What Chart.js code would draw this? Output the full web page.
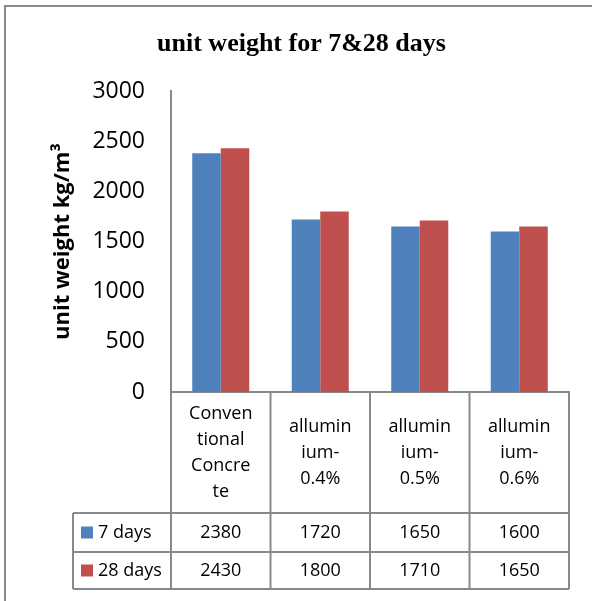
<!DOCTYPE html>
<html>
<head>
<meta charset="utf-8">
<script src="https://cdn.jsdelivr.net/npm/chart.js@4.4.1/dist/chart.umd.min.js"></script>
<style>
  html, body { margin: 0; padding: 0; background: #fff; }
</style>
</head>
<body>
<canvas id="chart" width="592" height="601"></canvas>
<script>
const categories = [
  ['Conven', 'tional', 'Concre', 'te'],
  ['allumin', 'ium-', '0.4%'],
  ['allumin', 'ium-', '0.5%'],
  ['allumin', 'ium-', '0.6%']
];
const days7 = [2380, 1720, 1650, 1600];
const days28 = [2430, 1800, 1710, 1650];
const seriesNames = ['7 days', '28 days'];
const seriesColors = ['#4F81BD', '#C0504D'];

const lineColor = '#898989';
const sansFont = "'Open Sans', sans-serif";

// outer chart frame (only top and left edges show in the picture)
const frame = {
  id: 'frame',
  beforeDraw(chart) {
    const ctx = chart.ctx;
    ctx.save();
    ctx.strokeStyle = lineColor;
    ctx.lineWidth = 2;
    ctx.beginPath();
    ctx.moveTo(5, chart.height);
    ctx.lineTo(5, 6);
    ctx.lineTo(chart.width, 6);
    ctx.stroke();
    ctx.restore();
  }
};

// excel style data table under the plot
const dataTable = {
  id: 'dataTable',
  afterDraw(chart) {
    const ctx = chart.ctx;
    const x = chart.scales.x;
    const top = chart.chartArea.bottom;
    const rows = [top, top + 121, top + 160, top + 197];
    const legendLeft = 73;

    const edges = [x.left];
    for (let i = 0; i < categories.length - 1; i++) {
      edges.push((x.getPixelForValue(i) + x.getPixelForValue(i + 1)) / 2);
    }
    edges.push(x.right);

    ctx.save();
    ctx.strokeStyle = lineColor;
    ctx.lineWidth = 2;
    ctx.beginPath();
    edges.forEach(e => { ctx.moveTo(e, rows[0]); ctx.lineTo(e, rows[3]); });
    ctx.moveTo(legendLeft, rows[1]); ctx.lineTo(legendLeft, rows[3]);
    for (let r = 1; r < rows.length; r++) {
      ctx.moveTo(legendLeft, rows[r]); ctx.lineTo(x.right, rows[r]);
    }
    ctx.stroke();

    ctx.fillStyle = '#000';
    ctx.font = '18px ' + sansFont;
    ctx.textAlign = 'center';
    ctx.textBaseline = 'middle';

    // category labels
    const catMid = (rows[0] + rows[1]) / 2;
    categories.forEach((lines, i) => {
      const cx = x.getPixelForValue(i);
      const y0 = catMid - (lines.length - 1) * 13;
      lines.forEach((t, j) => ctx.fillText(t, cx, y0 + j * 26));
    });

    // value rows with legend keys
    [days7, days28].forEach((vals, s) => {
      const my = (rows[s + 1] + rows[s + 2]) / 2;
      vals.forEach((v, i) => {
        ctx.textAlign = 'center';
        ctx.fillText(String(v), x.getPixelForValue(i), my);
      });
      ctx.fillStyle = seriesColors[s];
      ctx.fillRect(81, my - 6, 12, 12);
      ctx.fillStyle = '#000';
      ctx.textAlign = 'left';
      ctx.fillText(seriesNames[s], 98, my);
    });
    ctx.restore();
  }
};

new Chart(document.getElementById('chart'), {
  type: 'bar',
  data: {
    labels: categories,
    datasets: [
      { label: seriesNames[0], data: days7, backgroundColor: seriesColors[0] },
      { label: seriesNames[1], data: days28, backgroundColor: seriesColors[1] }
    ]
  },
  options: {
    responsive: false,
    animation: false,
    categoryPercentage: 0.573,
    barPercentage: 1,
    layout: { padding: { top: 0, left: 34, right: 23, bottom: 209 } },
    plugins: {
      legend: { display: false },
      tooltip: { enabled: false },
      title: {
        display: true,
        text: 'unit weight for 7&28 days',
        color: '#000',
        font: { family: "'Liberation Serif', 'Times New Roman', serif", size: 26, weight: 'bold', lineHeight: 1.2 },
        padding: { top: 29, bottom: 31 }
      }
    },
    scales: {
      x: {
        offset: true,
        grid: { display: false, drawTicks: false },
        border: { display: true, color: lineColor, width: 2 },
        ticks: { display: false }
      },
      y: {
        min: 0,
        max: 3000,
        grid: { display: false, drawTicks: false },
        border: { display: true, color: lineColor, width: 2 },
        ticks: {
          stepSize: 500,
          padding: 26,
          color: '#000',
          font: { family: sansFont, size: 23 },
          callback: v => String(v)
        },
        title: {
          display: true,
          text: 'unit weight kg/m³',
          color: '#000',
          font: { family: sansFont, size: 22, weight: 'bold', lineHeight: 1.2 },
          padding: { top: 16, bottom: 0 }
        },
        afterFit(scale) { scale.width = 137; }
      }
    }
  },
  plugins: [frame, dataTable]
});
</script>
</body>
</html>
